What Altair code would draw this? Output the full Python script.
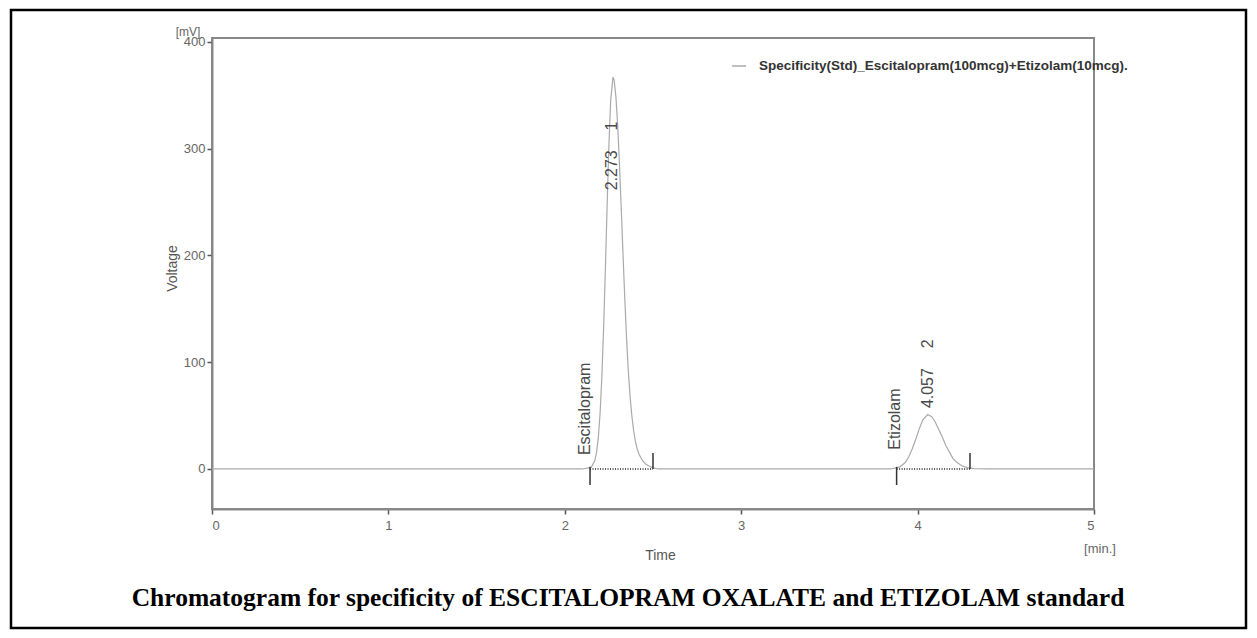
import altair as alt
import pandas as pd

# ---- data ----
sig_t = [0.00, 1.00, 2.00, 2.10, 2.15, 2.17, 2.18, 2.19, 2.20, 2.21, 2.22, 2.23, 2.24, 2.25,
         2.26, 2.273, 2.28, 2.29, 2.30, 2.31, 2.32, 2.33, 2.34, 2.35, 2.36, 2.37, 2.38, 2.39,
         2.40, 2.41, 2.42, 2.44, 2.46, 2.48, 2.50, 2.53, 3.00, 3.85, 3.90, 3.93, 3.95, 3.97,
         3.99, 4.01, 4.03, 4.057, 4.08, 4.10, 4.12, 4.14, 4.16, 4.18, 4.20, 4.22, 4.25, 4.28,
         4.32, 4.40, 5.00]
sig_v = [0, 0, 0, 0, 1.5, 7.6, 15.6, 29.6, 52, 86, 132, 187, 247, 303,
         345, 367, 364, 348, 321, 285, 244, 201, 160, 123, 92, 68, 50, 36,
         26, 19, 14, 8, 4.5, 2.5, 1, 0, 0, 0, 2, 6, 11.5, 19,
         28, 38, 46, 51, 49, 44, 37, 30, 22, 16, 10, 6.5, 3, 1.2,
         0.3, 0, 0]
series_name = "Specificity(Std)_Escitalopram(100mcg)+Etizolam(10mcg)."

peak_start = [2.143, 3.881]
peak_end = [2.50, 4.297]

ann_t = [2.115, 3.873, 2.268, 2.268, 4.059, 4.059]
ann_v = [13, 18, 261, 317, 57, 113]
ann_text = ["Escitalopram", "Etizolam", "2.273", "1", "4.057", "2"]

x_ticks = [0, 1, 2, 3, 4, 5]
y_ticks = [0, 100, 200, 300, 400]

title_text = "Chromatogram for specificity of ESCITALOPRAM OXALATE and ETIZOLAM standard"

# ---- tables ----
sig = pd.DataFrame({"t": sig_t, "v": sig_v, "series": series_name})
starts = pd.DataFrame({"t": peak_start, "y1": [2] * 2, "y2": [-15] * 2})
ends = pd.DataFrame({"t": peak_end, "y1": [0] * 2, "y2": [15] * 2})
bases = pd.DataFrame({"t1": peak_start, "t2": peak_end, "v": [0, 0]})
ann = pd.DataFrame({"t": ann_t, "v": ann_v, "text": ann_text})

W, H = 882, 471
xs = alt.Scale(domain=[0, 5], nice=False, zero=False)
ys = alt.Scale(domain=[-37.5, 403.7], nice=False, zero=False)

FONT = "Liberation Sans"

line = alt.Chart(sig).mark_line(strokeWidth=1.2).encode(
    x=alt.X("t:Q", scale=xs, axis=alt.Axis(values=x_ticks, format="d", title="Time", grid=False,
                                           titleX=448, titleY=46, titleBaseline="middle",
                                           labelPadding=5)),
    y=alt.Y("v:Q", scale=ys, axis=alt.Axis(values=y_ticks, format="d", title="Voltage", grid=False,
                                           titleX=-40, titleY=230, titleAngle=270,
                                           titleAlign="center", titleBaseline="middle",
                                           labelPadding=2)),
    color=alt.Color("series:N", scale=alt.Scale(range=["#aaaaaa"]),
                    legend=alt.Legend(title=None, orient="none", legendX=519, legendY=20,
                                      symbolType="stroke", symbolSize=200,
                                      symbolStrokeWidth=1.5, labelFontSize=13.5,
                                      labelFontWeight="bold", labelFont=FONT,
                                      labelColor="#333", labelOffset=12, labelLimit=600)),
)

base_dots = alt.Chart(bases).mark_rule(color="#555", strokeWidth=2, strokeDash=[1, 1.5]).encode(
    x="t1:Q", x2="t2:Q", y="v:Q"
)
start_ticks = alt.Chart(starts).mark_rule(color="#333", strokeWidth=1.5).encode(
    x="t:Q", y="y1:Q", y2="y2:Q"
)
end_ticks = alt.Chart(ends).mark_rule(color="#333", strokeWidth=1.5).encode(
    x="t:Q", y="y1:Q", y2="y2:Q"
)
labels = alt.Chart(ann).mark_text(angle=270, align="left", baseline="middle",
                                  fontSize=16, font=FONT, color="#4a4a4a").encode(
    x="t:Q", y="v:Q", text="text:N"
)

frame = alt.Chart(pd.DataFrame({"k": [0]})).mark_rect(
    filled=False, stroke="black", strokeWidth=2.5
).encode(
    x=alt.value(-201), x2=alt.value(1034), y=alt.value(-28), y2=alt.value(590)
)

mv = alt.Chart(pd.DataFrame({"text": ["[mV]"]})).mark_text(
    fontSize=12, font=FONT, color="#666", align="center", baseline="middle"
).encode(x=alt.value(-24), y=alt.value(-6), text="text:N")
mins = alt.Chart(pd.DataFrame({"text": ["[min.]"]})).mark_text(
    fontSize=13, font=FONT, color="#666", align="center", baseline="middle"
).encode(x=alt.value(888), y=alt.value(511), text="text:N")
title = alt.Chart(pd.DataFrame({"text": [title_text]})).mark_text(
    fontSize=25.5, font="Liberation Serif", fontWeight="bold", color="black",
    align="center", baseline="middle"
).encode(x=alt.value(416), y=alt.value(560), text="text:N")

chart = alt.layer(line, base_dots, start_ticks, end_ticks, labels, mv, mins, title, frame).properties(
    width=W, height=H,
    autosize=alt.AutoSizeParams(type="none"),
    padding={"left": 212, "top": 38, "right": 163, "bottom": 129},
    background="white",
).configure_view(
    stroke="#888", strokeWidth=2
).configure_axis(
    domainColor="#888", domainWidth=2, tickColor="#555", tickSize=5, tickWidth=1.5,
    labelColor="#666", labelFont=FONT, labelFontSize=13,
    titleFont=FONT, titleFontWeight="normal", titleColor="#555", titleFontSize=14,
)

chart.save("out.html", embed_options={"renderer": "svg", "actions": False})
